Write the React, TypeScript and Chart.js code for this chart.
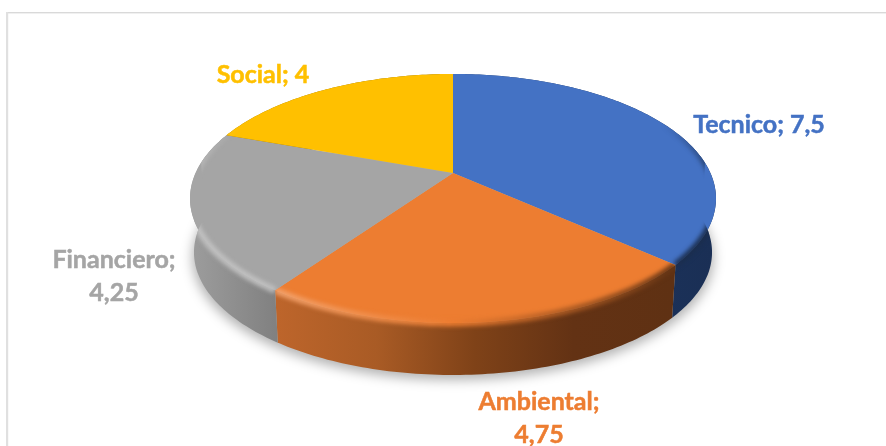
import { useEffect, useRef } from "react";
import { Chart, registerables } from "chart.js";

Chart.register(...registerables);

const categories = ["Tecnico", "Ambiental", "Financiero", "Social"];
const values = [7.5, 4.75, 4.25, 4];
const valueLabels = ["7,5", "4,75", "4,25", "4"];
const faceColors = ["#4472C4", "#ED7D31", "#A5A5A5", "#FFC000"];

// Wall shading, left to right along x
const wallStops: string[][] = [
  ["#1e3a68", "#1a2f55"],
  ["#bd652b", "#a95b25", "#7f4218", "#633214", "#5f3113"],
  ["#9c9c9c", "#808080"],
  ["#a07800", "#806000"],
];

const labelLines = [
  [`${categories[0]}; ${valueLabels[0]}`],
  [`${categories[1]};`, valueLabels[1]],
  [`${categories[2]};`, valueLabels[2]],
  [`${categories[3]}; ${valueLabels[3]}`],
];
const labelAnchors = [
  { x: 759, y: 125 },
  { x: 539, y: 402 },
  { x: 114, y: 260 },
  { x: 263, y: 75 },
];

const CX = 453;
const APEX_Y = 173;
const K = 257.4;
const A = 119.3;
const B = -0.2048;
const WALL_SHRINK = 0.985;
const WALL_DROP = 56.8;
const STEP = Math.PI / 180;

// Perspective projection of a point on the unit disc to the top face
function face(theta: number) {
  const u = Math.sin(theta);
  const v = -Math.cos(theta);
  const d = 1 + B * v;
  return { x: CX + (K * u) / d, y: APEX_Y + (A * v) / d };
}
function foot(theta: number) {
  const p = face(theta);
  return { x: CX + (p.x - CX) * WALL_SHRINK, y: p.y * WALL_SHRINK + WALL_DROP };
}
// Whichever of the two rims lies further from the apex
function outer(theta: number) {
  const p = face(theta);
  const q = foot(theta);
  return Math.hypot(q.x - CX, q.y - APEX_Y) > Math.hypot(p.x - CX, p.y - APEX_Y) ? q : p;
}
function angles(a0: number, a1: number) {
  const out: number[] = [];
  for (let t = a0; t < a1; t += STEP) out.push(t);
  out.push(a1);
  return out;
}

function mix(hex: string, target: number, t: number) {
  const n = parseInt(hex.slice(1), 16);
  const c = [(n >> 16) & 255, (n >> 8) & 255, n & 255].map((ch) => Math.round(ch + (target - ch) * t));
  return `rgb(${c[0]},${c[1]},${c[2]})`;
}

const pie3d = {
  id: "pie3d",
  beforeDraw(chart: any) {
    const { ctx, width, height } = chart;
    ctx.save();
    ctx.fillStyle = "#ffffff";
    ctx.fillRect(0, 0, width, height);
    ctx.fillStyle = "#d9d9d9";
    ctx.fillRect(7, 12, width - 7, 1.4);
    ctx.fillStyle = "#e0e0e0";
    ctx.fillRect(6, 12, 2.2, height - 12);
    ctx.restore();
  },
  beforeDatasetsDraw(chart: any) {
    const { ctx, width, height } = chart;
    const arcs = chart.getDatasetMeta(0).data;
    const range = (i: number) => ({
      a0: arcs[i].startAngle + Math.PI / 2,
      a1: arcs[i].endAngle + Math.PI / 2,
    });

    // Soft ground shadow
    ctx.save();
    ctx.filter = "blur(6px)";
    ctx.fillStyle = "rgba(0,0,0,0.30)";
    ctx.beginPath();
    angles(0, 2 * Math.PI).forEach((t) => {
      const p = foot(t);
      ctx.lineTo(CX + (p.x - CX) * 1.006, p.y + 5);
    });
    ctx.fill();
    ctx.restore();

    // Walls
    arcs.forEach((_: any, i: number) => {
      const { a0, a1 } = range(i);
      const ts = angles(a0, a1);
      const xs = ts.map((t) => foot(t).x);
      const g = ctx.createLinearGradient(Math.min(...xs), 0, Math.max(...xs), 0);
      const stops = wallStops[i];
      stops.forEach((s, k) => g.addColorStop(k / (stops.length - 1), s));
      ctx.save();
      ctx.fillStyle = g;
      ctx.beginPath();
      ts.forEach((t) => {
        const p = face(t);
        ctx.lineTo(p.x, p.y);
      });
      [...ts].reverse().forEach((t) => {
        const p = foot(t);
        ctx.lineTo(p.x, p.y);
      });
      ctx.closePath();
      ctx.fill();
      ctx.restore();
    });

    // Top faces
    arcs.forEach((_: any, i: number) => {
      const { a0, a1 } = range(i);
      ctx.save();
      ctx.fillStyle = faceColors[i];
      ctx.beginPath();
      ctx.moveTo(CX, APEX_Y);
      angles(a0, a1).forEach((t) => {
        const p = face(t);
        ctx.lineTo(p.x, p.y);
      });
      ctx.closePath();
      ctx.fill();
      ctx.restore();
    });

    // Rounded rim: lit on the left, falling into shade on the right.
    // Painted sharp on a scratch layer, which is then blurred as a whole.
    arcs.forEach((_: any, i: number) => {
      const { a0, a1 } = range(i);
      const layer = document.createElement("canvas");
      layer.width = width;
      layer.height = height;
      const lc = layer.getContext("2d") as CanvasRenderingContext2D;
      lc.lineWidth = 6.5;
      lc.lineCap = "butt";
      const ts = angles(a0, a1);
      for (let n = 0; n < ts.length - 1; n++) {
        const m = (ts[n] + ts[n + 1]) / 2;
        const u = Math.sin(m);
        const v = -Math.cos(m);
        const vis = Math.max(0, Math.min(1, (v + 0.45) / 0.6));
        if (vis <= 0) continue;
        const col = u < 0
          ? mix(faceColors[i], 255, 0.32 * Math.min(1, -u * 1.6))
          : mix(faceColors[i], 0, 0.6 * Math.min(1, u * 1.3));
        const p = face(ts[n]);
        const q = face(ts[n + 1]);
        lc.globalAlpha = vis;
        lc.strokeStyle = col;
        lc.beginPath();
        lc.moveTo(p.x, p.y);
        lc.lineTo(q.x, q.y);
        lc.stroke();
      }
      // Clip to the slice: its face edge, then down the wall seam and along the outline
      ctx.save();
      ctx.beginPath();
      ctx.moveTo(CX, APEX_Y);
      const start = face(a0);
      ctx.lineTo(start.x, start.y);
      ts.forEach((t) => {
        const p = outer(t);
        ctx.lineTo(p.x, p.y);
      });
      const end = face(a1);
      ctx.lineTo(end.x, end.y);
      ctx.closePath();
      ctx.clip();
      ctx.filter = "blur(2px)";
      ctx.drawImage(layer, 0, 0);
      ctx.restore();
    });

    // Data labels
    ctx.save();
    ctx.font = "bold 25px Lato";
    ctx.textAlign = "center";
    ctx.textBaseline = "middle";
    ctx.lineWidth = 0.5;
    labelLines.forEach((lines, i) => {
      ctx.fillStyle = faceColors[i];
      ctx.strokeStyle = faceColors[i];
      lines.forEach((line, k) => {
        ctx.fillText(line, labelAnchors[i].x, labelAnchors[i].y + k * 33);
        ctx.strokeText(line, labelAnchors[i].x, labelAnchors[i].y + k * 33);
      });
    });
    ctx.restore();

    return false;
  },
};

export default function App() {
  const ref = useRef<HTMLCanvasElement>(null);
  useEffect(() => {
    if (!ref.current) return;
    const chart = new Chart(ref.current, {
      type: "pie",
      data: {
        labels: categories,
        datasets: [{ data: values, backgroundColor: faceColors, borderWidth: 0 }],
      },
      options: {
        responsive: false,
        animation: false,
        plugins: { legend: { display: false }, tooltip: { enabled: false } },
      },
      plugins: [pie3d],
    });
    return () => chart.destroy();
  }, []);
  return (
    <div style={{ position: "fixed", left: 0, top: 0, width: 886, height: 446 }}>
      <canvas ref={ref} width={886} height={446} style={{ display: "block" }} />
    </div>
  );
}
